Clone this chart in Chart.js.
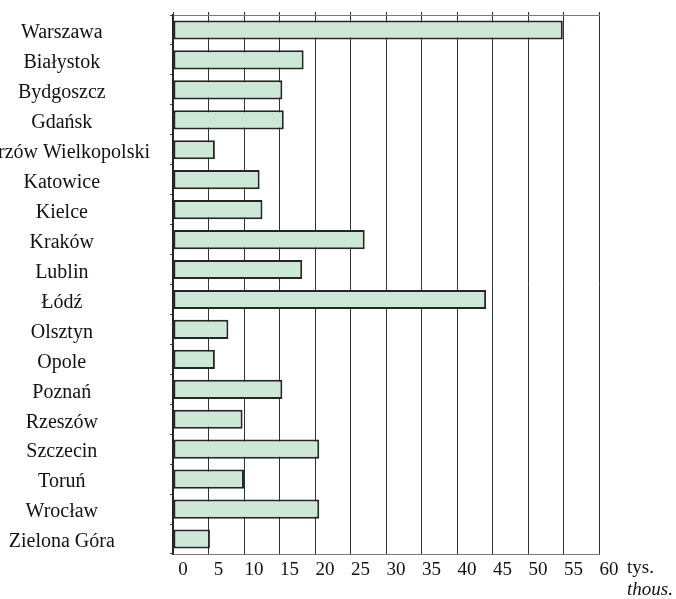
<!DOCTYPE html>
<html>
<head>
<meta charset="utf-8">
<script src="https://cdn.jsdelivr.net/npm/chart.js@4"></script>
<style>
  html, body { margin: 0; padding: 0; background: #fff; }
  #chart { display: block; }
</style>
</head>
<body>
<canvas id="chart" width="676" height="599"></canvas>
<script>
// cities (top to bottom) and values in thousands
const cities = [
  'Warszawa', 'Białystok', 'Bydgoszcz', 'Gdańsk', 'Gorzów Wielkopolski',
  'Katowice', 'Kielce', 'Kraków', 'Lublin', 'Łódź', 'Olsztyn', 'Opole',
  'Poznań', 'Rzeszów', 'Szczecin', 'Toruń', 'Wrocław', 'Zielona Góra'
];
const values = [
  54.9, 18.4, 15.4, 15.6, 5.9,
  12.2, 12.6, 27.0, 18.2, 44.1, 7.8, 5.9,
  15.4, 9.8, 20.6, 10.0, 20.6, 5.2
];
const axisMin = 0;
const axisMax = 60;
const axisStep = 5;
const unitLabel = 'tys.';
const unitLabelEn = 'thous.';

const SERIF = '"Liberation Serif", "DejaVu Serif", serif';

// unit caption under the right end of the value axis
const unitPlugin = {
  id: 'unitText',
  afterDraw(chart) {
    const ctx = chart.ctx;
    const area = chart.chartArea;
    ctx.save();
    ctx.fillStyle = '#111';
    ctx.textAlign = 'left';
    ctx.textBaseline = 'alphabetic';
    ctx.font = '19px ' + SERIF;
    ctx.fillText(unitLabel, area.right + 28, area.bottom + 19);
    ctx.font = 'italic 19px ' + SERIF;
    ctx.fillText(unitLabelEn, area.right + 28, area.bottom + 41);
    ctx.restore();
  }
};

// keep the axes from adding their own label padding to the layout
function noPad(scale) {
  scale.paddingTop = 0;
  scale.paddingBottom = 0;
  scale.paddingLeft = 0;
  scale.paddingRight = 0;
}

new Chart(document.getElementById('chart').getContext('2d'), {
  type: 'bar',
  data: {
    labels: cities,
    datasets: [{
      data: values,
      backgroundColor: '#cde8d6',
      borderColor: '#262626',
      borderWidth: 2,
      borderSkipped: false,
      barPercentage: 0.64,
      categoryPercentage: 1
    }]
  },
  options: {
    indexAxis: 'y',
    responsive: false,
    animation: false,
    layout: { padding: { left: 0, right: 77, top: 12, bottom: 0 } },
    plugins: {
      legend: { display: false },
      tooltip: { enabled: false }
    },
    scales: {
      x: {
        type: 'linear',
        position: 'bottom',
        min: axisMin,
        max: axisMax,
        grid: { color: '#333', lineWidth: 1, drawTicks: false },
        border: { display: true, color: '#7a7a7a', width: 1 },
        ticks: {
          stepSize: axisStep,
          padding: 5,
          labelOffset: 10,
          color: '#111',
          font: { family: SERIF, size: 19 }
        },
        afterFit(scale) { scale.height = 45; noPad(scale); }
      },
      x2: {
        type: 'linear',
        axis: 'x',
        position: 'top',
        min: axisMin,
        max: axisMax,
        grid: { drawOnChartArea: false, tickLength: 3, color: '#333' },
        border: { display: true, color: '#7a7a7a', width: 1 },
        ticks: { stepSize: axisStep, display: false },
        afterFit(scale) { scale.height = 3; noPad(scale); }
      },
      y: {
        type: 'category',
        position: 'left',
        grid: { drawOnChartArea: false, tickLength: 3, color: '#444' },
        border: { display: true, color: '#222', width: 1.5 },
        ticks: {
          crossAlign: 'center',
          padding: 20,
          labelOffset: 3,
          autoSkip: false,
          color: '#111',
          font: { family: SERIF, size: 20 }
        },
        afterFit(scale) { scale.width = 173; noPad(scale); }
      }
    }
  },
  plugins: [unitPlugin]
});
</script>
</body>
</html>
